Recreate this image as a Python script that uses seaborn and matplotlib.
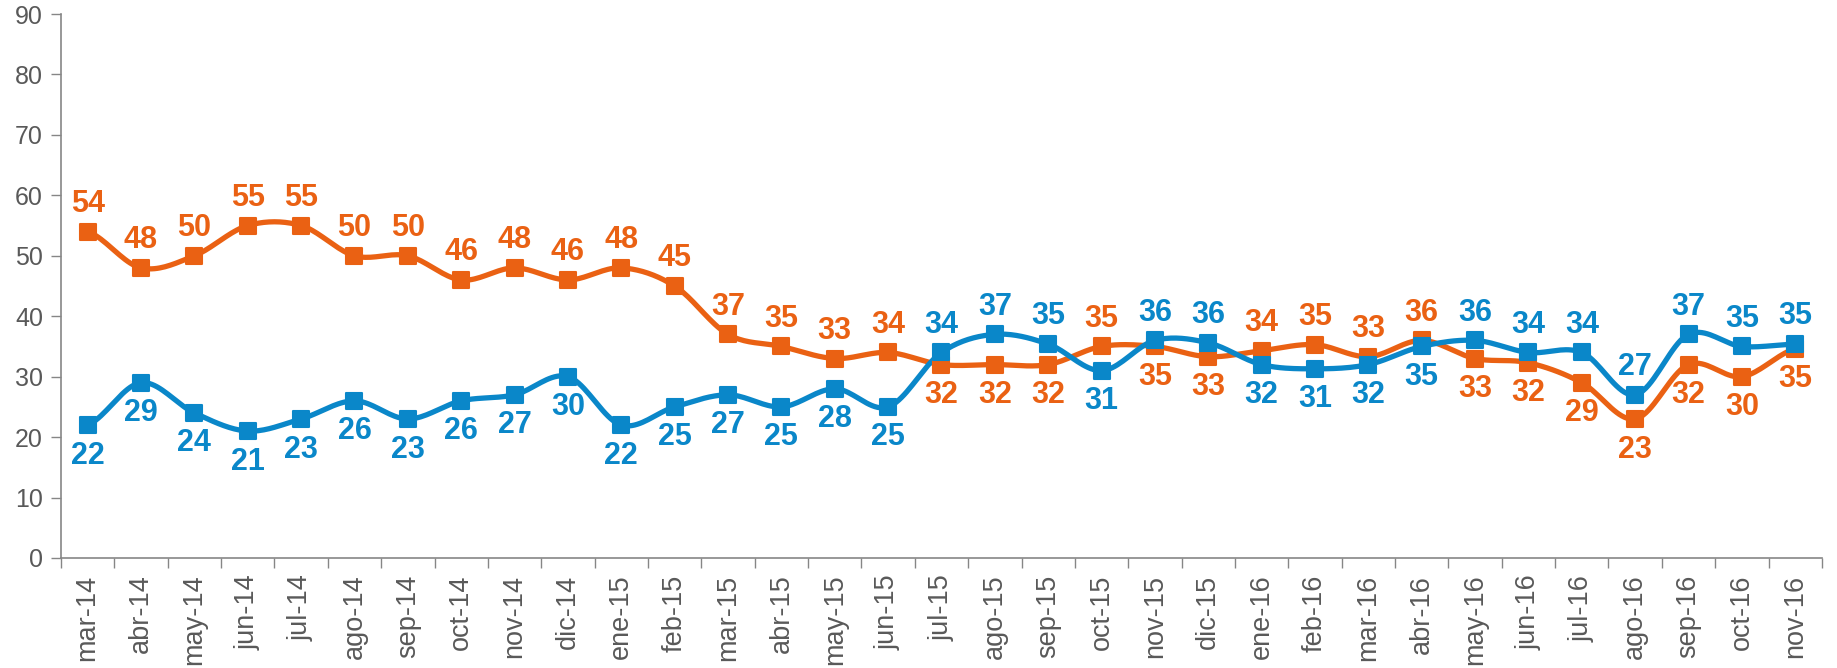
import numpy as np
import pandas as pd
import matplotlib
matplotlib.use("Agg")
import matplotlib.pyplot as plt
import seaborn as sns

months = ["mar-14", "abr-14", "may-14", "jun-14", "jul-14", "ago-14", "sep-14", "oct-14",
          "nov-14", "dic-14", "ene-15", "feb-15", "mar-15", "abr-15", "may-15", "jun-15",
          "jul-15", "ago-15", "sep-15", "oct-15", "nov-15", "dic-15", "ene-16", "feb-16",
          "mar-16", "abr-16", "may-16", "jun-16", "jul-16", "ago-16", "sep-16", "oct-16", "nov-16"]

orange = [54, 48, 50, 55, 55, 50, 50, 46, 48, 46, 48, 45, 37, 35, 33, 34,
          32, 32, 32, 35, 35, 33.3, 34.3, 35.3, 33.3, 36, 33, 32.3, 29, 23, 32, 30, 34.6]
blue = [22, 29, 24, 21, 23, 26, 23, 26, 27, 30, 22, 25, 27, 25, 28, 25,
        34, 37, 35.4, 31, 36, 35.6, 32, 31.3, 32, 35, 36, 34, 34, 27, 37, 35, 35.4]

ORANGE = "#EA6113"
BLUE = "#0A87C9"
GRAY = "#595959"

sns.set_theme(style="white")
plt.rcParams["font.family"] = ["Liberation Sans", "DejaVu Sans"]


def smooth(y, n=20):
    # Catmull-Rom style smoothing (like Excel's smoothed line) for display only
    y = np.asarray(y, float)
    x = np.arange(len(y), dtype=float)
    xs, ys = [], []
    for i in range(len(y) - 1):
        p0 = y[i - 1] if i > 0 else y[i]
        p1, p2 = y[i], y[i + 1]
        p3 = y[i + 2] if i + 2 < len(y) else y[i + 1]
        c1 = p1 + (p2 - p0) / 6.0
        c2 = p2 - (p3 - p1) / 6.0
        t = np.linspace(0, 1, n, endpoint=False)
        b = (1 - t) ** 3 * p1 + 3 * (1 - t) ** 2 * t * c1 + 3 * (1 - t) * t ** 2 * c2 + t ** 3 * p2
        xs.append(x[i] + t)
        ys.append(b)
    xs.append([x[-1]])
    ys.append([y[-1]])
    return np.concatenate(xs), np.concatenate(ys)


fig = plt.figure(figsize=(18.37, 6.68), dpi=100)
ax = fig.add_axes([0.0332, 0.1647, 0.9586, 0.8143])

idx = np.arange(len(months))
for vals, col in [(orange, ORANGE), (blue, BLUE)]:
    sx, sy = smooth(vals)
    sns.lineplot(x=sx, y=sy, ax=ax, color=col, linewidth=3.8, sort=False, estimator=None)
    df = pd.DataFrame({"x": idx, "y": vals})
    sns.scatterplot(data=df, x="x", y="y", ax=ax, color=col, marker="s", s=130,
                    edgecolor=col, linewidth=1.5, zorder=5)

for vals, col in [(orange, ORANGE), (blue, BLUE)]:
    oth = blue if vals is orange else orange
    for i, v in enumerate(vals):
        above = v > oth[i] or (v == oth[i] and vals is blue)
        ax.annotate(f"{round(v):d}", (i, v), xytext=(0, 20 if above else -22),
                    textcoords="offset points", ha="center", va="center",
                    color=col, fontsize=22, fontweight="bold")

ax.set_xlim(-0.5, len(months) - 0.5)
ax.set_ylim(0, 90)
ax.set_yticks(range(0, 91, 10))
ax.set_xticks(idx)
ax.set_xticklabels(months, rotation=90)
ax.set_xticks(np.arange(-0.5, len(months), 1.0), minor=True)
ax.tick_params(axis="x", which="major", length=0, pad=12, labelsize=19.5, labelcolor=GRAY)
ax.tick_params(axis="x", which="minor", length=7, width=1, color="#868686", direction="out", bottom=True)
ax.tick_params(axis="y", length=7, width=1, color="#868686", direction="out", left=True,
               labelsize=18, labelcolor=GRAY, pad=6)
for s in ["top", "right"]:
    ax.spines[s].set_visible(False)
for s in ["left", "bottom"]:
    ax.spines[s].set_color("#868686")
    ax.spines[s].set_linewidth(1.2)
ax.set_xlabel("")
ax.set_ylabel("")
ax.grid(False)
if ax.get_legend():
    ax.get_legend().remove()

fig.savefig("out.png", dpi=100)
